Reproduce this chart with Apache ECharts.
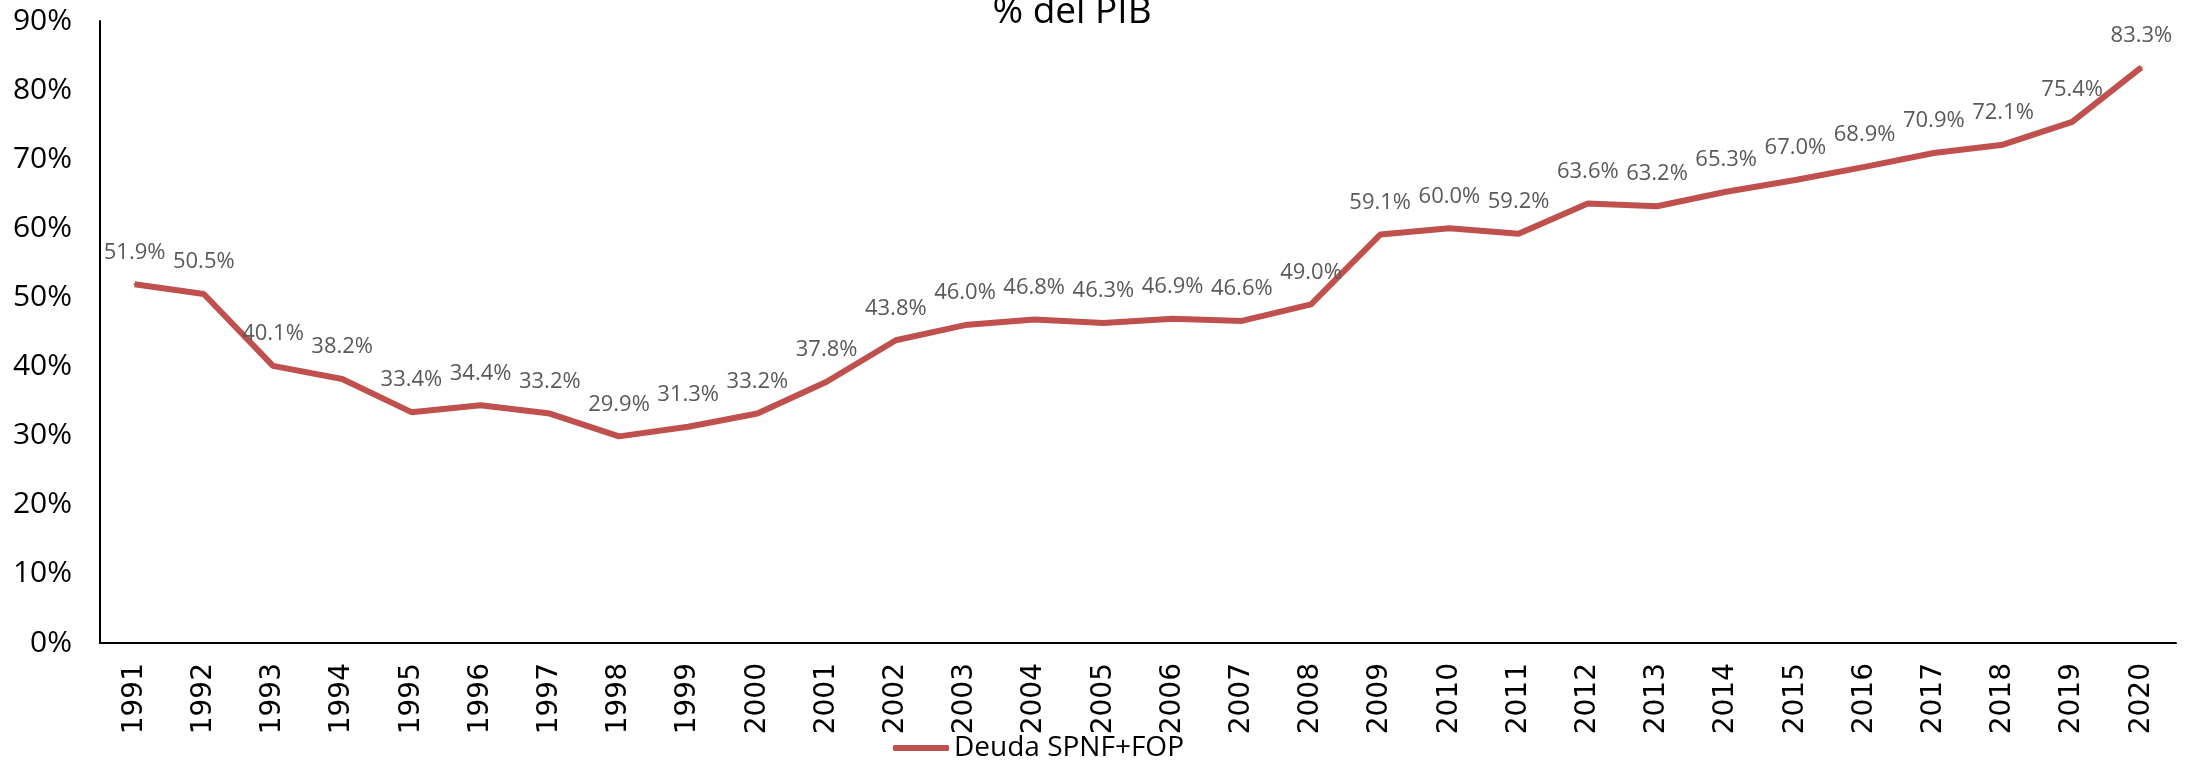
<!DOCTYPE html>
<html>
<head>
<meta charset="utf-8">
<script src="https://cdn.jsdelivr.net/npm/echarts@6/dist/echarts.min.js"></script>
<style>
  html, body { margin: 0; padding: 0; background: #fff; }
  #chart { width: 2198px; height: 762px; }
</style>
</head>
<body>
<div id="chart"></div>
<script>
  const years = ['1991', '1992', '1993', '1994', '1995', '1996', '1997', '1998', '1999', '2000',
    '2001', '2002', '2003', '2004', '2005', '2006', '2007', '2008', '2009', '2010',
    '2011', '2012', '2013', '2014', '2015', '2016', '2017', '2018', '2019', '2020'];
  const deuda = [51.9, 50.5, 40.1, 38.2, 33.4, 34.4, 33.2, 29.9, 31.3, 33.2,
    37.8, 43.8, 46.0, 46.8, 46.3, 46.9, 46.6, 49.0, 59.1, 60.0,
    59.2, 63.6, 63.2, 65.3, 67.0, 68.9, 70.9, 72.1, 75.4, 83.3];
  const yTicks = [0, 10, 20, 30, 40, 50, 60, 70, 80, 90];

  let chart = echarts.init(document.getElementById('chart'));
  let option = {
    backgroundColor: '#ffffff',
    animation: false,
    title: {
      text: '% del PIB',
      left: 1067,
      textAlign: 'center',
      top: -11,
      textStyle: {
        fontFamily: 'Open Sans',
        fontSize: 37,
        fontWeight: 'normal',
        color: '#000'
      }
    },
    grid: {
      left: 100,
      right: 22,
      top: 21,
      bottom: 119
    },
    legend: {
      data: ['Deuda SPNF+FOP'],
      left: 888,
      top: 729,
      itemWidth: 56,
      itemHeight: 6,
      itemGap: 8,
      icon: 'roundRect',
      textStyle: {
        fontFamily: 'Open Sans',
        fontSize: 28,
        color: '#000'
      }
    },
    xAxis: {
      type: 'category',
      data: years,
      boundaryGap: true,
      axisLine: { lineStyle: { color: '#000', width: 2 } },
      axisTick: { show: false },
      axisLabel: {
        rotate: 90,
        margin: 20,
        fontFamily: 'DejaVu Sans',
        fontSize: 28,
        color: '#000'
      }
    },
    yAxis: {
      type: 'value',
      min: yTicks[0],
      max: yTicks[yTicks.length - 1],
      interval: 10,
      axisLine: { show: true, lineStyle: { color: '#000', width: 2 } },
      axisTick: { show: false },
      splitLine: { show: false },
      axisLabel: {
        formatter: '{value}%',
        margin: 28,
        fontFamily: 'Open Sans',
        fontSize: 30,
        color: '#000'
      }
    },
    series: [
      {
        name: 'Deuda SPNF+FOP',
        type: 'line',
        data: deuda,
        symbol: 'circle',
        symbolSize: 2,
        showSymbol: true,
        itemStyle: { color: '#C0504D' },
        lineStyle: { color: '#C0504D', width: 6 },
        labelLayout: { hideOverlap: false },
        label: {
          show: true,
          position: 'top',
          distance: 20,
          formatter: p => p.value.toFixed(1) + '%',
          fontFamily: 'Open Sans',
          fontSize: 22,
          color: '#595959'
        }
      }
    ]
  };
  chart.setOption(option);
</script>
</body>
</html>
